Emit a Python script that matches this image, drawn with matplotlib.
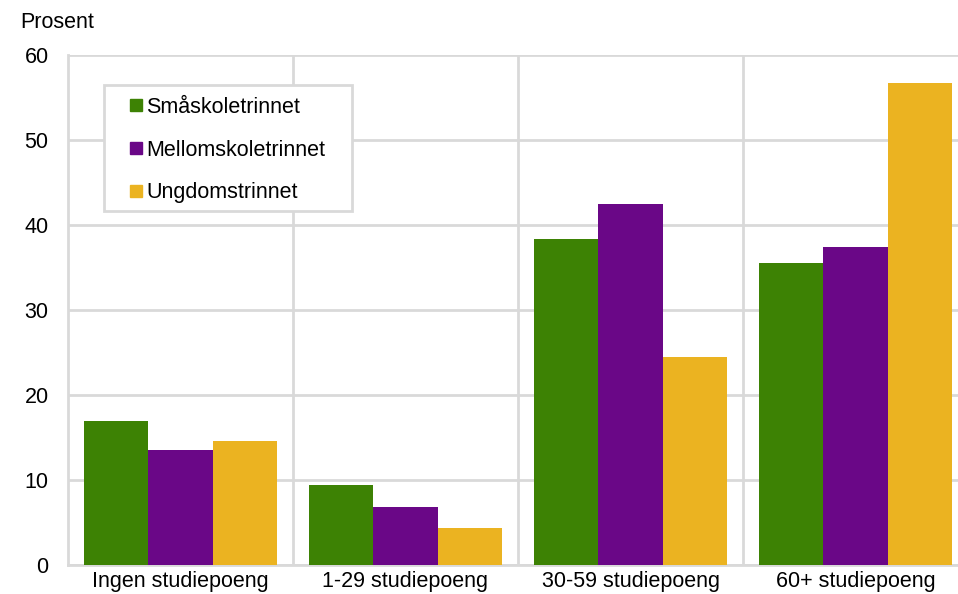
import numpy as np
import matplotlib
matplotlib.use("Agg")
import matplotlib.pyplot as plt
from matplotlib.lines import Line2D
from matplotlib.patches import Rectangle

plt.rcParams['font.family'] = ['Liberation Sans', 'DejaVu Sans']

# data
categories = ['Ingen studiepoeng', '1-29 studiepoeng', '30-59 studiepoeng', '60+ studiepoeng']
series_names = ['Småskoletrinnet', 'Mellomskoletrinnet', 'Ungdomstrinnet']
smaskole = [17.0, 9.4, 38.3, 35.5]
mellomskole = [13.5, 6.8, 42.5, 37.4]
ungdom = [14.6, 4.4, 24.5, 56.7]
yticks = [0, 10, 20, 30, 40, 50, 60]

colors = ['#3d8204', '#6a0787', '#ebb321']
grid_col = '#d9d9d9'
fs = 15.5

fig = plt.figure(figsize=(9.58, 5.94), dpi=100)
ax = fig.add_axes([68 / 958, 29 / 594, 900 / 958, 510 / 594])

x = np.arange(len(categories))
w = 0.287
for i, vals in enumerate([smaskole, mellomskole, ungdom]):
    ax.bar(x + (i - 1) * w, vals, width=w, color=colors[i], zorder=3)

ax.set_xlim(-0.5, 3.5)
ax.set_ylim(0, 60)
ax.set_yticks(yticks)
ax.set_xticks(x)
ax.set_xticklabels(categories)
ax.set_xticks([0.5, 1.5, 2.5], minor=True)
ax.tick_params(axis='both', which='both', length=0, labelsize=fs, colors='black')
ax.tick_params(axis='y', pad=14)
ax.tick_params(axis='x', pad=4)

ax.grid(axis='y', which='major', color=grid_col, linewidth=2, zorder=0)
ax.grid(axis='x', which='minor', color=grid_col, linewidth=2, zorder=0)
ax.grid(axis='x', which='major', visible=False)
for s in ['top', 'right']:
    ax.spines[s].set_visible(False)
for s in ['left', 'bottom']:
    ax.spines[s].set_color(grid_col)
    ax.spines[s].set_linewidth(2)

fig.text(20 / 958, 1 - 22 / 594, 'Prosent', fontsize=fs, va='center', ha='left')

# legend frame drawn as a plain box, legend itself without frame
box = Rectangle(((104 - 68) / 900, (565 - 211) / 510), (352 - 104) / 900, (211 - 85) / 510,
                transform=ax.transAxes, facecolor='white', edgecolor=grid_col,
                linewidth=2, zorder=4, clip_on=False)
ax.add_patch(box)

handles = [Line2D([], [], marker='s', linestyle='none', markersize=8,
                  markerfacecolor=c, markeredgecolor=c) for c in colors]
leg = ax.legend(handles, series_names, loc='upper left',
                bbox_to_anchor=((131 - 68) / 900, (565 - 97) / 510),
                borderaxespad=0, borderpad=0, fontsize=fs, handlelength=0.5,
                handletextpad=0.2, labelspacing=1.0, frameon=False)
leg.set_zorder(5)

fig.savefig('out.png', dpi=100)
